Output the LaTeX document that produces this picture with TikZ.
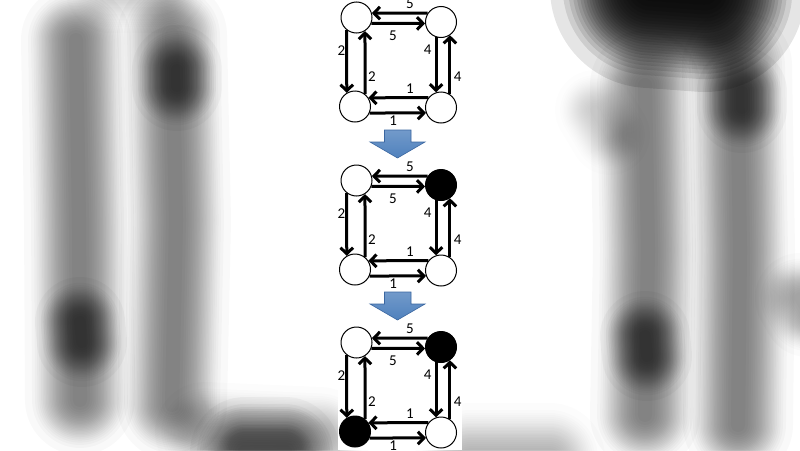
\documentclass[tikz,border=0pt]{standalone}
\usepackage{fontspec}
\setmainfont{Carlito}
\usetikzlibrary{arrows.meta}

\definecolor{arrowblue}{HTML}{4F81BD}
\definecolor{arrowdark}{HTML}{3A66A0}

\tikzset{
  vertex/.style={circle,draw,line width=1pt,minimum size=31pt,inner sep=0pt,fill=white},
  link/.style={line width=3pt,-{Straight Barb[length=6pt,width=12.5pt]}},
  wt/.style={font=\fontsize{15}{15}\selectfont,inner sep=0pt},
  haze/.style={line cap=round,line join=round,black},
  stepdown/.style={top color=arrowblue!80!white,bottom color=arrowblue,draw=arrowdark,line width=.6pt}
}
% soft (blurred) stroke: outer width, opacity, path
\newcommand\hazy[3]{\foreach \i in {0,...,24}{%
  \pgfmathsetmacro\w{#1/180*acos(2*\i/25-1)}%
  \draw[haze,opacity=#2,line width=\w pt] #3;}}

\begin{document}
\begin{tikzpicture}[x=1pt,y=-1pt]
\useasboundingbox (0,0) rectangle (800,450);
\fill[white] (0,0) rectangle (800,450);

% blurred backdrop, left
\hazy{110}{.025}{(76,40) -- (79,220) -- (80,400)}
\hazy{110}{.025}{(172,35) -- (176,220) -- (172,405)}
\hazy{90}{.03}{(177,70) -- (177,86)}
\hazy{90}{.03}{(80,322) -- (82,342)}
\hazy{110}{.03}{(245,452) -- (285,452)}
\hazy{100}{.01}{(205,432) -- (320,437)}
\hazy{90}{.008}{(110,-12) -- (160,-12)}

% blurred backdrop, right
\hazy{200}{.1}{(650,-12) -- (705,-8)}
\hazy{110}{.025}{(645,85) -- (648,250) -- (645,415)}
\hazy{110}{.025}{(737,65) -- (740,250) -- (738,425)}
\hazy{90}{.03}{(742,92) -- (742,108)}
\hazy{90}{.03}{(645,336) -- (647,356)}
\hazy{90}{.015}{(800,298) -- (808,312)}
\hazy{110}{.012}{(470,458) -- (550,458)}
\hazy{80}{.008}{(595,110) -- (610,135)}

% white strip
\fill[white] (338,0) rectangle (462,450);

% block arrows between the steps
\foreach \dy in {0,162}
  \draw[stepdown] (384.5,130+\dy) -- (411,130+\dy) -- (411,142+\dy) -- (425,142+\dy)
    -- (397.5,158+\dy) -- (370,142+\dy) -- (384.5,142+\dy) -- cycle;

% the three graphs
\foreach \dy/\ftr/\fbl in {0/white/white,163/black/white,325/black/black}{
\begin{scope}[yshift=-\dy pt]
\node[vertex] (tl) at (356.5,17.5) {};
\node[vertex,fill=\ftr] (tr) at (441,22) {};
\node[vertex,fill=\fbl] (bl) at (355,106.5) {};
\node[vertex] (br) at (441,107.5) {};

\draw[link] (tr.146) -- node[wt,pos=.32,above=2.5pt] {5} (tl.16);
\draw[link] (tl.-22) -- node[wt,pos=.4,below=5.5pt] {5} (tr.185);
\draw[link] (tl.-128) -- node[wt,pos=.32,left=0pt] {2} (bl.121);
\draw[link] (bl.51) -- node[wt,pos=.27,right=1.5pt] {2} (tl.-58);
\draw[link] (tr.-108) -- node[wt,pos=.23,left=3pt] {4} (br.108);
\draw[link] (br.56) -- node[wt,pos=.29,right=2.5pt] {4} (tr.-56);
\draw[link] (br.142) -- node[wt,pos=.31,above=2.5pt] {1} (bl.33);
\draw[link] (bl.-24) -- node[wt,pos=.42,below=1pt] {1} (br.200);
\end{scope}}

\end{tikzpicture}
\end{document}
